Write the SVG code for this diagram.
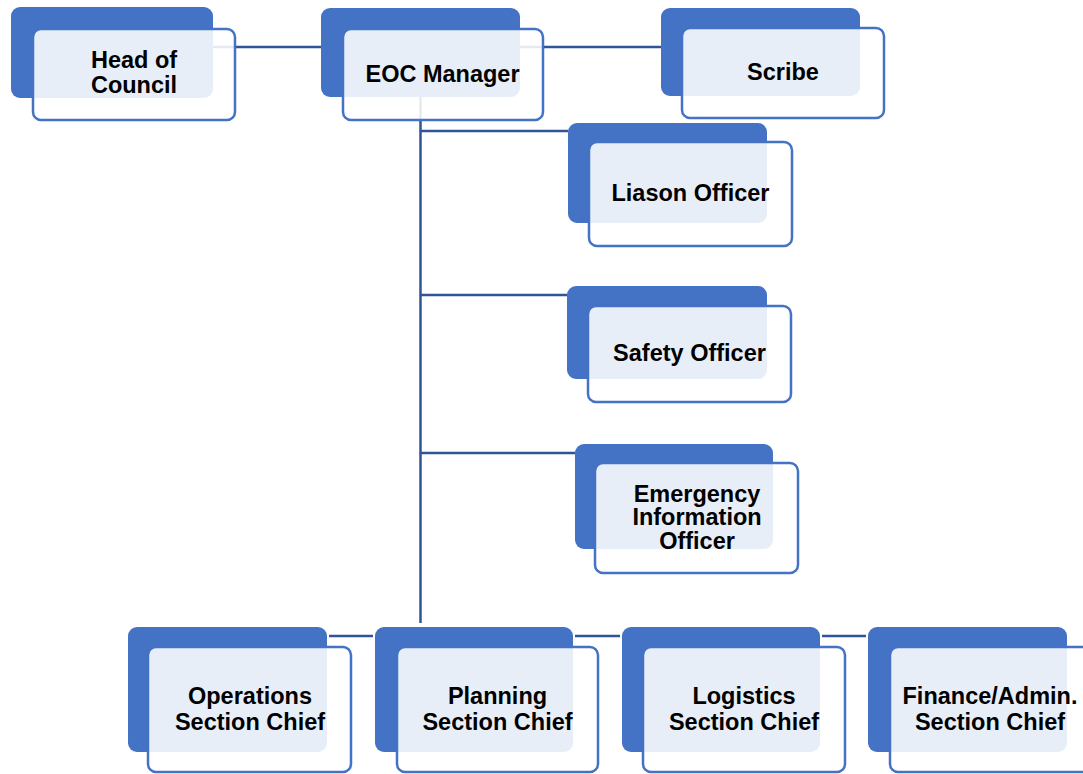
<svg xmlns="http://www.w3.org/2000/svg" width="1083" height="774" viewBox="0 0 1083 774">
  <style>
    .back { fill: #4472C4; }
    .front { fill: #FFFFFF; fill-opacity: 0.88; stroke: #4472C4; stroke-width: 2.5; }
    .conn { stroke: #2F5597; stroke-width: 2.5; fill: none; }
    text { font-family: "Liberation Sans", Arial, sans-serif; font-weight: bold; font-size: 23.5px; fill: #000000; text-anchor: middle; }
  </style>
  <rect width="1083" height="774" fill="#FFFFFF"/>
  <g id="connectors">
    <path class="conn" d="M213,47 H321"/>
    <path class="conn" d="M520,47 H661"/>
    <path class="conn" d="M420.5,97 V623"/>
    <path class="conn" d="M420.5,131 H568"/>
    <path class="conn" d="M420.5,295 H567"/>
    <path class="conn" d="M420.5,453 H575"/>
    <path class="conn" d="M329,636 H373"/>
    <path class="conn" d="M575,636 H620"/>
    <path class="conn" d="M822,636 H866"/>
  </g>
  <g id="head-of-council">
    <rect class="back" x="11" y="7" width="202" height="91" rx="9"/>
    <rect class="front" x="33" y="29" width="202" height="91" rx="8"/>
    <text x="134" y="68">Head of</text>
    <text x="134" y="93">Council</text>
  </g>
  <g id="eoc-manager">
    <rect class="back" x="321" y="8" width="199" height="89" rx="9"/>
    <rect class="front" x="343" y="29" width="200" height="91" rx="8"/>
    <text x="442.5" y="82">EOC Manager</text>
  </g>
  <g id="scribe">
    <rect class="back" x="661" y="8" width="199" height="88" rx="9"/>
    <rect class="front" x="682" y="28" width="202" height="90" rx="8"/>
    <text x="783" y="80">Scribe</text>
  </g>
  <g id="liason-officer">
    <rect class="back" x="568" y="123" width="199" height="100" rx="9"/>
    <rect class="front" x="589" y="142" width="203" height="104" rx="8"/>
    <text x="690.5" y="201">Liason Officer</text>
  </g>
  <g id="safety-officer">
    <rect class="back" x="567" y="286" width="200" height="93" rx="9"/>
    <rect class="front" x="588" y="306" width="203" height="96" rx="8"/>
    <text x="689.5" y="361">Safety Officer</text>
  </g>
  <g id="emergency-information-officer">
    <rect class="back" x="575" y="444" width="198" height="105" rx="9"/>
    <rect class="front" x="595" y="463" width="203" height="110" rx="8"/>
    <text x="697" y="501.5">Emergency</text>
    <text x="697" y="525">Information</text>
    <text x="697" y="548.5">Officer</text>
  </g>
  <g id="operations-section-chief">
    <rect class="back" x="128" y="627" width="199" height="125" rx="9"/>
    <rect class="front" x="148" y="647" width="203" height="125" rx="8"/>
    <text x="250" y="704">Operations</text>
    <text x="250" y="730">Section Chief</text>
  </g>
  <g id="planning-section-chief">
    <rect class="back" x="375" y="627" width="198" height="125" rx="9"/>
    <rect class="front" x="397" y="647" width="201" height="125" rx="8"/>
    <text x="497.5" y="704">Planning</text>
    <text x="497.5" y="730">Section Chief</text>
  </g>
  <g id="logistics-section-chief">
    <rect class="back" x="622" y="627" width="198" height="125" rx="9"/>
    <rect class="front" x="643" y="647" width="202" height="125" rx="8"/>
    <text x="744" y="704">Logistics</text>
    <text x="744" y="730">Section Chief</text>
  </g>
  <g id="finance-admin-section-chief">
    <rect class="back" x="868" y="627" width="199" height="125" rx="9"/>
    <rect class="front" x="890" y="647" width="200" height="125" rx="8"/>
    <text x="990" y="704">Finance/Admin.</text>
    <text x="990" y="730">Section Chief</text>
  </g>
</svg>
